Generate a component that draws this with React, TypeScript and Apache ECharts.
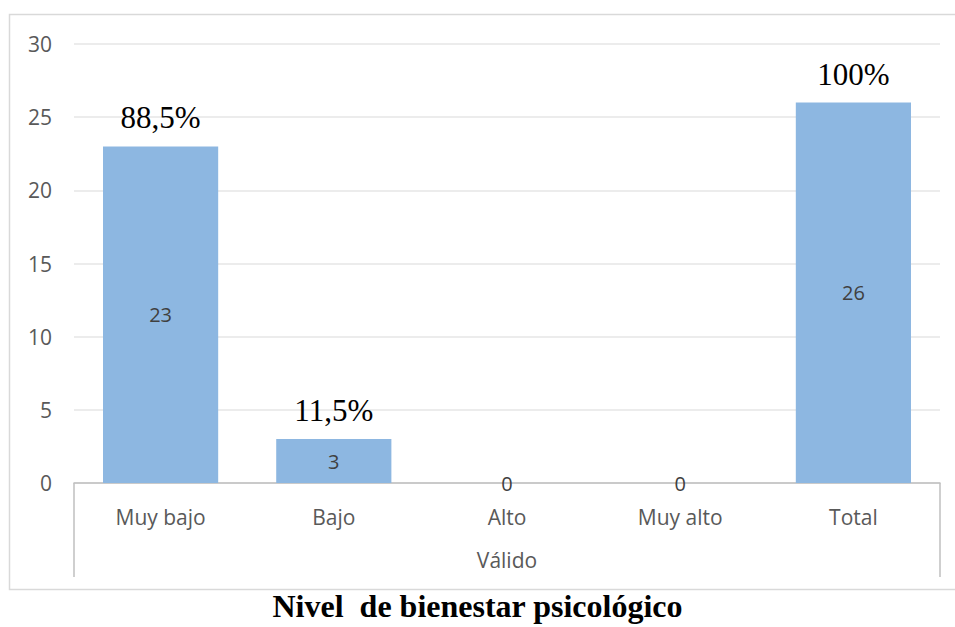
import React, { useEffect, useRef } from "react";
import * as echarts from "echarts";

const categories = ["Muy bajo", "Bajo", "Alto", "Muy alto", "Total"];
const counts = [23, 3, 0, 0, 26];
const percents = ["88,5%", "11,5%", "", "", "100%"];
const groupLabels = ["Válido"];
const titleText = "Nivel  de bienestar psicológico";

const SANS = "'Open Sans', 'Noto Sans', sans-serif";
const SERIF = "'Liberation Serif', 'Times New Roman', serif";

export default function App() {
  const ref = useRef<HTMLDivElement>(null);
  useEffect(() => {
    if (!ref.current) return;
    const chart = echarts.init(ref.current, undefined, { renderer: "svg" });
    chart.setOption({
      animation: false,
      backgroundColor: "#ffffff",
      title: {
        text: titleText,
        left: "center",
        top: 590,
        padding: 0,
        textStyle: { fontFamily: SERIF, fontWeight: "bold", fontSize: 32, lineHeight: 32, color: "#000000" },
      },
      graphic: [
        {
          type: "rect",
          shape: { x: 9.5, y: 14.5, width: 960, height: 575 },
          style: { fill: "none", stroke: "#D9D9D9", lineWidth: 1.5 },
          silent: true,
        },
      ],
      grid: { left: 74, right: 15, top: 44, bottom: 144, containLabel: false },
      xAxis: [
        {
          type: "category",
          data: categories,
          position: "bottom",
          axisLine: { show: true, lineStyle: { color: "#BFBFBF", width: 1.5 } },
          axisTick: { show: false },
          axisLabel: { fontFamily: SANS, fontSize: 21, color: "#595959", margin: 23 },
        },
        {
          type: "category",
          data: groupLabels,
          position: "bottom",
          axisLine: { show: false },
          axisTick: { show: true, inside: false, length: 94, lineStyle: { color: "#BFBFBF", width: 1.5 } },
          axisLabel: { fontFamily: SANS, fontSize: 21, color: "#595959", margin: 66 },
        },
      ],
      yAxis: {
        type: "value",
        min: 0,
        max: 30,
        interval: 5,
        axisLine: { show: false },
        axisTick: { show: false },
        splitLine: { lineStyle: { color: "#E6E6E6", width: 1.5 } },
        axisLabel: { fontFamily: SANS, fontSize: 21, color: "#595959", margin: 22 },
      },
      series: [
        {
          type: "bar",
          data: counts,
          xAxisIndex: 0,
          barWidth: "66.5%",
          itemStyle: { color: "#8DB7E1" },
          label: {
            show: true,
            position: "inside",
            fontFamily: SANS,
            fontSize: 20,
            color: "#404040",
          },
          z: 2,
        },
        {
          type: "bar",
          data: counts,
          xAxisIndex: 0,
          barWidth: "66.5%",
          barGap: "-100%",
          itemStyle: { color: "rgba(0,0,0,0)" },
          label: {
            show: true,
            position: "top",
            distance: 13,
            fontFamily: SERIF,
            fontSize: 31,
            color: "#000000",
            formatter: (p: any) => percents[p.dataIndex],
          },
          silent: true,
          z: 3,
        },
      ],
    });
    return () => chart.dispose();
  }, []);
  return (
    <div
      ref={ref}
      style={{ position: "fixed", left: 0, top: 0, width: 955, height: 627 }}
    />
  );
}
